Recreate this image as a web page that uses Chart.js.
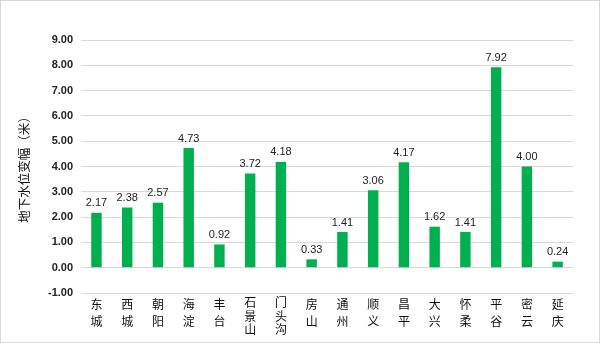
<!DOCTYPE html>
<html>
<head>
<meta charset="utf-8">
<script src="https://cdn.jsdelivr.net/npm/chart.js@4"></script>
<style>
  html, body { margin: 0; padding: 0; background: #fff; }
  #wrap { width: 600px; height: 343px; }
</style>
</head>
<body>
<div id="wrap"><canvas id="chart"></canvas></div>
<script>
var districts = ['东城', '西城', '朝阳', '海淀', '丰台', '石景山', '门头沟', '房山', '通州', '顺义', '昌平', '大兴', '怀柔', '平谷', '密云', '延庆']
var waterChange = [2.17, 2.38, 2.57, 4.73, 0.92, 3.72, 4.18, 0.33, 1.41, 3.06, 4.17, 1.62, 1.41, 7.92, 4.00, 0.24]

// stack each district name vertically, one char per line
var stackedLabels = districts.map(function (d) { return d.split('') })

var cjk = '"Noto Sans CJK SC", "Noto Sans", sans-serif'

var valueLabels = {
    id: 'valueLabels',
    afterDatasetsDraw: function (chart) {
        var ctx = chart.ctx
        var meta = chart.getDatasetMeta(0)
        ctx.save()
        ctx.font = '11px "Liberation Sans", Arial, sans-serif'
        ctx.fillStyle = '#222'
        ctx.textAlign = 'center'
        ctx.textBaseline = 'bottom'
        meta.data.forEach(function (bar, i) {
            ctx.fillText(waterChange[i].toFixed(2), bar.x, bar.y - 4)
        })
        ctx.restore()
    }
}

// thin grey frame round the whole picture
var frame = {
    id: 'frame',
    afterDraw: function (chart) {
        var ctx = chart.ctx
        ctx.save()
        ctx.strokeStyle = '#d9d9d9'
        ctx.lineWidth = 1
        ctx.strokeRect(0.5, 0.5, chart.width - 1, chart.height - 1)
        ctx.restore()
    }
}

var chart = new Chart(
    document.getElementById('chart'),
    {
        type: 'bar',
        data: {
            labels: stackedLabels,
            datasets: [
                {
                    label: '地下水位变幅',
                    backgroundColor: '#00b050',
                    borderWidth: 0,
                    data: waterChange,
                    barPercentage: 0.34,
                    categoryPercentage: 1
                }
            ]
        },
        plugins: [valueLabels, frame],
        options: {
            responsive: true,
            maintainAspectRatio: false,
            animation: false,
            layout: {
                padding: { top: 40, right: 27, bottom: 0, left: 17 }
            },
            plugins: {
                legend: { display: false },
                tooltip: { enabled: false }
            },
            scales: {
                x: {
                    grid: { display: false },
                    border: { display: false },
                    // fixed height so the 3-line labels don't get clipped
                    afterFit: function (scale) { scale.height = 50 },
                    ticks: {
                        color: '#111',
                        font: function (c) {
                            var three = districts[c.index] && districts[c.index].length > 2
                            return { family: cjk, size: 12, lineHeight: three ? '13.5px' : '17px' }
                        },
                        maxRotation: 0,
                        autoSkip: false,
                        padding: -5
                    }
                },
                y: {
                    min: -1,
                    max: 9,
                    grid: { color: '#d9d9d9', drawTicks: false },
                    border: { display: false },
                    ticks: {
                        stepSize: 1,
                        color: '#222',
                        padding: 8,
                        font: { family: '"Liberation Sans", Arial, sans-serif', size: 11, weight: 'bold' },
                        callback: function (v) { return v.toFixed(2) }
                    },
                    title: {
                        display: true,
                        text: '地下水位变幅（米）',
                        color: '#111',
                        font: { family: cjk, size: 12.5 },
                        padding: { top: 0, bottom: 8 }
                    }
                }
            }
        }
    }
);
</script>
</body>
</html>
